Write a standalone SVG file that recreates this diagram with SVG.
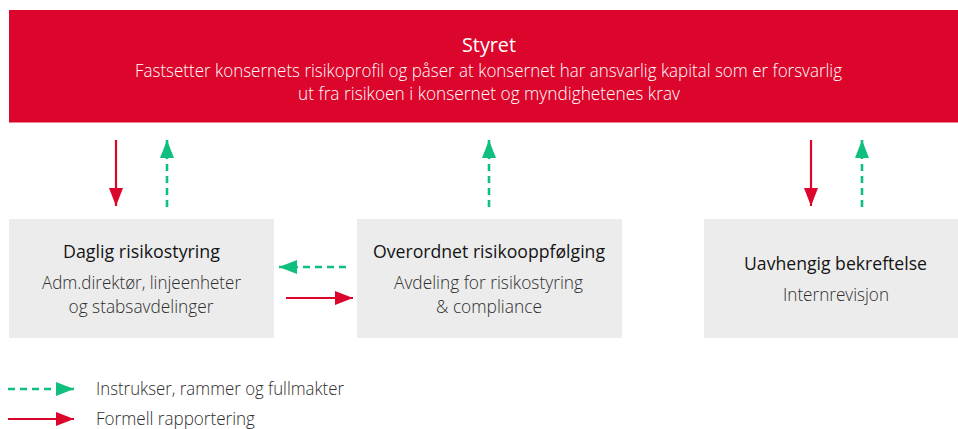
<svg xmlns="http://www.w3.org/2000/svg" width="958" height="429" viewBox="0 0 958 429">
<style>
text{font-family:"Open Sans","Noto Sans","Liberation Sans",sans-serif;text-anchor:middle}
.ttl{font-size:18.5px;fill:#141414}
.sub{font-size:18px;fill:#2e2e2e;font-weight:300}
.bn{font-size:17.5px}
.wt{fill:#ffffff}
.box{fill:#ececec}
.red{stroke:#dc052b;stroke-width:2.2;fill:none}
.grn{stroke:#10bf7e;stroke-width:2.6;fill:none;stroke-dasharray:7 5}
.leg{text-anchor:start;font-size:17.5px;fill:#2e2e2e;font-weight:300}
</style>
<defs>
<marker id="ar" viewBox="0 0 18 14" refX="18" refY="7" markerWidth="18" markerHeight="14" markerUnits="userSpaceOnUse" orient="auto"><path d="M0,0 L18,7 L0,14 z" fill="#dc052b"/></marker>
<marker id="ag" viewBox="0 0 18 14" refX="18" refY="7" markerWidth="18" markerHeight="14" markerUnits="userSpaceOnUse" orient="auto"><path d="M0,0 L18,7 L0,14 z" fill="#10bf7e"/></marker>
</defs>
<g id="styret">
<rect x="9" y="10" width="949" height="112.5" fill="#dc052b"/>
<text class="ttl wt" x="489" y="52" style="font-size:19.5px" textLength="54" lengthAdjust="spacingAndGlyphs">Styret</text>
<text class="sub wt bn" x="488.5" y="77" textLength="707" lengthAdjust="spacingAndGlyphs">Fastsetter konsernets risikoprofil og påser at konsernet har ansvarlig kapital som er forsvarlig</text>
<text class="sub wt bn" x="489" y="99.5" textLength="382" lengthAdjust="spacingAndGlyphs">ut fra risikoen i konsernet og myndighetenes krav</text>
</g>
<g id="daglig">
<rect class="box" x="9" y="219" width="265" height="119"/>
<text class="ttl" x="141.5" y="258" textLength="157" lengthAdjust="spacingAndGlyphs">Daglig risikostyring</text>
<text class="sub" x="141.5" y="289" textLength="199" lengthAdjust="spacingAndGlyphs">Adm.direktør, linjeenheter</text>
<text class="sub" x="141" y="313" textLength="145" lengthAdjust="spacingAndGlyphs">og stabsavdelinger</text>
</g>
<g id="overordnet">
<rect class="box" x="357" y="219" width="265" height="119"/>
<text class="ttl" x="489" y="258" textLength="232" lengthAdjust="spacingAndGlyphs">Overordnet risikooppfølging</text>
<text class="sub" x="488.5" y="289" textLength="189" lengthAdjust="spacingAndGlyphs">Avdeling for risikostyring</text>
<text class="sub" x="489" y="313" textLength="106" lengthAdjust="spacingAndGlyphs">&amp; compliance</text>
</g>
<g id="uavhengig">
<rect class="box" x="704" y="219" width="265" height="119"/>
<text class="ttl" x="835.5" y="270" textLength="183" lengthAdjust="spacingAndGlyphs">Uavhengig bekreftelse</text>
<text class="sub" x="836" y="301" textLength="106" lengthAdjust="spacingAndGlyphs">Internrevisjon</text>
</g>
<g id="connectors">
<line class="red" x1="116" y1="140" x2="116" y2="206" marker-end="url(#ar)"/>
<line class="grn" x1="167" y1="207" x2="167" y2="140" marker-end="url(#ag)"/>
<line class="grn" x1="489" y1="207" x2="489" y2="140" marker-end="url(#ag)"/>
<line class="red" x1="811" y1="140" x2="811" y2="206" marker-end="url(#ar)"/>
<line class="grn" x1="862" y1="207" x2="862" y2="140" marker-end="url(#ag)"/>
<line class="grn" x1="346" y1="267" x2="279" y2="267" marker-end="url(#ag)"/>
<line class="red" x1="286" y1="298" x2="353" y2="298" marker-end="url(#ar)"/>
</g>
<g id="legend">
<line class="grn" x1="8" y1="389" x2="74" y2="389" marker-end="url(#ag)"/>
<line class="red" x1="8" y1="419" x2="74" y2="419" marker-end="url(#ar)"/>
<text class="leg" x="96" y="395" textLength="248" lengthAdjust="spacingAndGlyphs">Instrukser, rammer og fullmakter</text>
<text class="leg" x="96" y="425" textLength="159" lengthAdjust="spacingAndGlyphs">Formell rapportering</text>
</g>
</svg>
